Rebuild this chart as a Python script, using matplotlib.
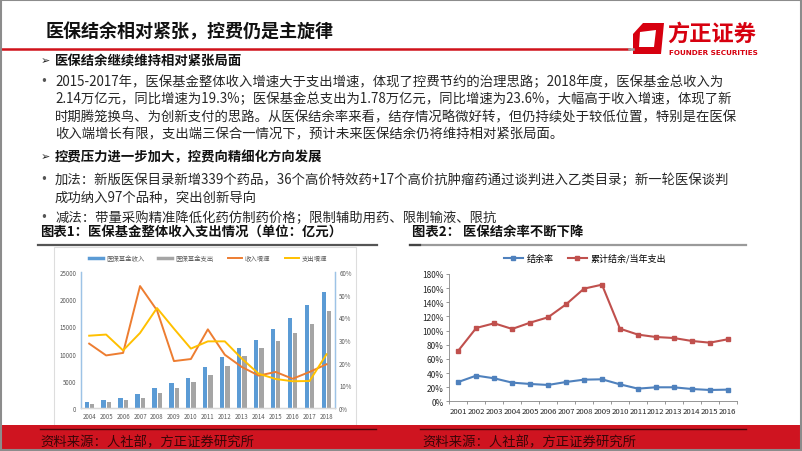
import matplotlib
matplotlib.use("Agg")
import matplotlib.pyplot as plt
import numpy as np
from matplotlib.patches import Rectangle, Polygon
from matplotlib.lines import Line2D
from matplotlib.ticker import FuncFormatter

plt.rcParams["font.family"] = ["Noto Sans CJK SC", "DejaVu Sans"]

W, H = 802, 452

# chart 1 data (亿元 / growth)
years1 = ["2004", "2005", "2006", "2007", "2008", "2009", "2010", "2011",
          "2012", "2013", "2014", "2015", "2016", "2017", "2018"]
income = [1140, 1405, 1747, 2600, 3700, 4600, 5600, 7600,
          9300, 11000, 12500, 14500, 16500, 19000, 21400]
expense = [800, 1100, 1400, 1900, 2750, 3700, 4700, 6100,
           7800, 9500, 11000, 12300, 13800, 15500, 17900]
income_growth = [0.284, 0.232, 0.243, 0.538, 0.431, 0.207, 0.216, 0.347,
                 0.235, 0.181, 0.143, 0.159, 0.129, 0.159, 0.193]
expense_growth = [0.319, 0.324, 0.254, 0.331, 0.441, 0.350, 0.262, 0.294,
                  0.294, 0.218, 0.151, 0.128, 0.118, 0.119, 0.237]

# chart 2 data
years2 = ["2001", "2002", "2003", "2004", "2005", "2006", "2007", "2008",
          "2009", "2010", "2011", "2012", "2013", "2014", "2015", "2016"]
surplus_rate = [0.273, 0.363, 0.325, 0.264, 0.245, 0.231, 0.273, 0.306,
                0.311, 0.240, 0.179, 0.198, 0.198, 0.174, 0.160, 0.165]
accum_ratio = [0.716, 1.037, 1.103, 1.023, 1.112, 1.188, 1.371, 1.593,
               1.649, 1.027, 0.943, 0.909, 0.895, 0.853, 0.829, 0.877]

title = "医保结余相对紧张，控费仍是主旋律"
para1 = [
    "2015-2017年，医保基金整体收入增速大于支出增速，体现了控费节约的治理思路；2018年度，医保基金总收入为",
    "2.14万亿元，同比增速为19.3%；医保基金总支出为1.78万亿元，同比增速为23.6%，大幅高于收入增速，体现了新",
    "时期腾笼换鸟、为创新支付的思路。从医保结余率来看，结存情况略微好转，但仍持续处于较低位置，特别是在医保",
    "收入端增长有限，支出端三保合一情况下，预计未来医保结余仍将维持相对紧张局面。",
]
para2 = [
    "加法：新版医保目录新增339个药品，36个高价特效药+17个高价抗肿瘤药通过谈判进入乙类目录；新一轮医保谈判",
    "成功纳入97个品种，突出创新导向",
]
para3 = ["减法：带量采购精准降低化药仿制药价格；限制辅助用药、限制输液、限抗"]


def fx(x):
    return x / W


def fy(y):
    return 1 - y / H


def ptext(x, y, s, **kw):
    fig.text(fx(x), fy(y), s, va="center", **kw)


fig = plt.figure(figsize=(W / 100, H / 100), dpi=100)
fig.patch.set_facecolor("white")

# slide border
fig.patches.append(Rectangle((0.001, 0.002), 0.998, 0.996, transform=fig.transFigure,
                             fill=False, edgecolor="#8c8c8c", linewidth=1.5, zorder=5))

# title + red rule
ptext(46, 32, title, fontsize=13, fontweight="heavy", color="#111111")
fig.add_artist(Line2D([fx(1), fx(629)], [fy(49.5)] * 2, color="#d0121b", linewidth=1.8))
fig.add_artist(Line2D([fx(629), fx(633)], [fy(49.5)] * 2, color="#a0a0a0", linewidth=1.8))

# logo
red = "#d7000f"
outer = [(633, 35), (643, 24), (664, 24), (661, 55), (633, 55)]
inner = [(640, 33), (656, 31), (654, 48), (639, 48)]
fig.patches.append(Polygon([(fx(a), fy(b)) for a, b in outer], closed=True,
                           transform=fig.transFigure, facecolor=red, edgecolor="none"))
fig.patches.append(Polygon([(fx(a), fy(b)) for a, b in inner], closed=True,
                           transform=fig.transFigure, facecolor="white", edgecolor="none"))
ptext(667, 34, "方正证券", fontsize=16, fontweight="heavy", color=red)
ptext(669, 53, "FOUNDER SECURITIES", fontsize=5.2, fontweight="bold", color=red,
      family="DejaVu Sans")

# body text
body_fs = 9.6
body_col = "#262626"
ptext(41, 61, "➢", fontsize=8, color="#222222", family=["DejaVu Sans"])
ptext(55, 61, "医保结余继续维持相对紧张局面", fontsize=9.6, fontweight="bold", color="#111111")
ptext(40, 82, "•", fontsize=8.5, color="#555555", family=["DejaVu Sans"])
for i, line in enumerate(para1):
    ptext(55, 82 + i * 17.5, line, fontsize=body_fs, color=body_col)
ptext(41, 157, "➢", fontsize=8, color="#222222", family=["DejaVu Sans"])
ptext(55, 157, "控费压力进一步加大，控费向精细化方向发展", fontsize=9.6, fontweight="bold",
      color="#111111")
ptext(40, 180, "•", fontsize=8.5, color="#555555", family=["DejaVu Sans"])
for i, line in enumerate(para2):
    ptext(55, 180 + i * 17.5, line, fontsize=body_fs, color=body_col)
ptext(40, 218, "•", fontsize=8.5, color="#555555", family=["DejaVu Sans"])
ptext(55, 218, para3[0], fontsize=body_fs, color=body_col)

ptext(40, 232, "图表1：医保基金整体收入支出情况（单位：亿元）", fontsize=9.6,
      fontweight="bold", color="#111111")
ptext(412, 232, "图表2： 医保结余率不断下降", fontsize=9.6, fontweight="bold", color="#111111")
fig.add_artist(Line2D([fx(38), fx(377)], [fy(246)] * 2, color="#555555", linewidth=1.6))
fig.add_artist(Line2D([fx(410), fx(746)], [fy(246)] * 2, color="#9a9a9a", linewidth=1.6))
fig.add_artist(Line2D([fx(410), fx(420)], [fy(246)] * 2, color="#444444", linewidth=1.6))

# chart 1 frame (behind the axes)
fig.patches.append(Rectangle((fx(54), fy(426)), fx(356) - fx(54), fy(248) - fy(426),
                             transform=fig.transFigure, facecolor="white",
                             edgecolor="#dddddd", linewidth=0.8, zorder=-1))

# bottom band
fig.patches.append(Rectangle((fx(1), fy(450)), fx(800), fy(426) - fy(450),
                             transform=fig.transFigure, facecolor="#cf1420",
                             edgecolor="none", zorder=0.5))
fig.add_artist(Line2D([fx(40), fx(376)], [fy(430)] * 2, color="#4a0508", linewidth=1.0))
fig.add_artist(Line2D([fx(420), fx(746)], [fy(430)] * 2, color="#4a0508", linewidth=1.0))
ptext(40, 442, "资料来源：人社部，方正证券研究所", fontsize=9.6, color="#3a0608")
ptext(422, 442, "资料来源：人社部，方正证券研究所", fontsize=9.6, color="#3a0608")

# ---------------- chart 1 ----------------
blue, gray, orange, yellow = "#5b9bd5", "#a5a5a5", "#ed7d31", "#ffc000"
ax1 = fig.add_axes([fx(80.7), fy(409), fx(335) - fx(80.7), fy(273) - fy(409)])
x1 = np.arange(len(years1))
ax1.bar(x1 - 0.15, income, width=0.25, color=blue, zorder=2)
ax1.bar(x1 + 0.16, expense, width=0.25, color=gray, zorder=2)
ax1.set_xlim(-0.5, len(years1) - 0.5)
ax1.set_ylim(0, 25000)
ax1.set_yticks(np.arange(0, 25001, 5000))
ax1.set_xticks(x1)
ax1.set_xticklabels(years1)
ax1.tick_params(axis="both", labelsize=4.4, colors="#595959", length=0, pad=3)
ax1.spines["top"].set_visible(False)
ax1.spines["left"].set_color("#9dc3e6")
ax1.spines["right"].set_color("#9dc3e6")
ax1.spines["bottom"].set_color("#d9d9d9")
for s in ax1.spines.values():
    s.set_linewidth(0.9)
ax1.patch.set_alpha(0)

ax1b = ax1.twinx()
ax1b.plot(x1, income_growth, color=orange, linewidth=1.4, zorder=3)
ax1b.plot(x1, expense_growth, color=yellow, linewidth=1.4, zorder=3)
ax1b.set_ylim(0, 0.6)
ax1b.set_yticks(np.arange(0, 0.61, 0.1))
ax1b.yaxis.set_major_formatter(FuncFormatter(lambda v, p: f"{v * 100:.0f}%"))
ax1b.tick_params(axis="y", labelsize=4.4, colors="#595959", length=0, pad=3)
ax1b.spines["top"].set_visible(False)
ax1b.spines["right"].set_color("#9dc3e6")
ax1b.spines["left"].set_color("#9dc3e6")
ax1b.spines["bottom"].set_color("#d9d9d9")
for s in ax1b.spines.values():
    s.set_linewidth(0.9)

h1 = [Line2D([], [], color=blue, linewidth=2.5), Line2D([], [], color=gray, linewidth=2.5),
      Line2D([], [], color=orange, linewidth=1.4), Line2D([], [], color=yellow, linewidth=1.4)]
fig.legend(h1, ["医保基金收入", "医保基金支出", "收入增速", "支出增速"], ncol=4,
           loc="center", bbox_to_anchor=(fx(208), fy(259)), frameon=False,
           fontsize=4.6, handlelength=2.2, columnspacing=2.2, handletextpad=0.5,
           labelcolor="#595959")

# ---------------- chart 2 ----------------
c_blue, c_red = "#4f81bd", "#c0504d"
ax2 = fig.add_axes([fx(449.3), fy(402.3), fx(736.7) - fx(449.3), fy(275) - fy(402.3)])
x2 = np.arange(len(years2))
ax2.plot(x2, surplus_rate, color=c_blue, linewidth=1.5, marker="s", markersize=3,
         label="结余率")
ax2.plot(x2, accum_ratio, color=c_red, linewidth=1.5, marker="s", markersize=3,
         label="累计结余/当年支出")
ax2.set_xlim(-0.5, len(years2) - 0.5)
ax2.set_ylim(0, 1.8)
ax2.set_yticks(np.arange(0, 1.81, 0.2))
ax2.yaxis.set_major_formatter(FuncFormatter(lambda v, p: f"{v * 100:.0f}%"))
ax2.set_xticks(x2)
ax2.set_xticklabels(years2)
ax2.set_xticks(np.arange(-0.5, len(years2), 1), minor=True)
ax2.tick_params(axis="x", which="major", length=0, labelsize=5.6, colors="#262626", pad=4)
ax2.tick_params(axis="x", which="minor", length=2.5, color="#868686", width=0.6)
ax2.tick_params(axis="y", labelsize=6.0, colors="#262626", length=2.5, color="#868686",
                width=0.6, pad=1.5)
ax2.spines["top"].set_visible(False)
ax2.spines["right"].set_visible(False)
ax2.spines["left"].set_color("#868686")
ax2.spines["bottom"].set_color("#868686")
ax2.spines["left"].set_linewidth(0.6)
ax2.spines["bottom"].set_linewidth(0.6)
ax2.patch.set_alpha(0)
fig.legend(*ax2.get_legend_handles_labels(), ncol=2, loc="center",
           bbox_to_anchor=(fx(585), fy(259)), frameon=False, fontsize=6.5,
           handlelength=2.2, columnspacing=1.5, handletextpad=0.4)

fig.savefig("out.png", dpi=100)
